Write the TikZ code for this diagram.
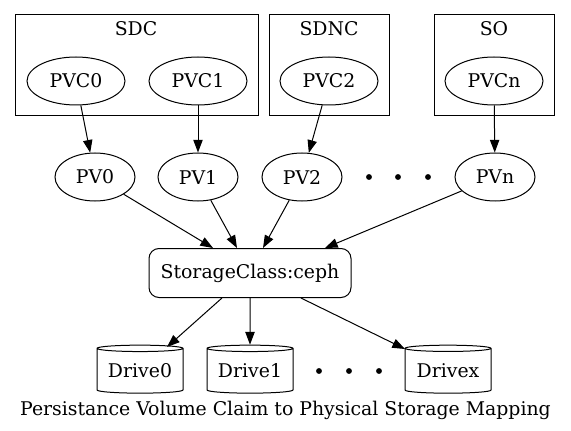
\documentclass[tikz,border=0pt]{standalone}
\usepackage{fontspec}
\setmainfont{DejaVu Serif}
\usetikzlibrary{shapes.geometric,arrows.meta}
\begin{document}
\begin{tikzpicture}[x=0.75pt, y=-0.75pt, line width=0.75pt,
        font=\fontsize{14.15}{16}\selectfont,
        pvc/.style={ellipse, draw, inner sep=0pt, minimum width=73.5pt, minimum height=36pt},
        pv/.style={ellipse, draw, inner sep=0pt, minimum width=60pt, minimum height=36pt},
        sclass/.style={draw, rounded corners=7.5pt, inner sep=0pt, minimum width=151.5pt, minimum height=36.75pt},
        drive/.style={cylinder, shape border rotate=90, aspect=0.1, draw, inner sep=0pt, minimum width=64.5pt, minimum height=36pt},
        edge/.style={-{Triangle[length=9.5pt, width=7pt]}}
      ]
      \useasboundingbox (0,0) rectangle (571,431);
      % clusters
      \draw (15,15) rectangle (258,116);
      \draw (269,15) rectangle (389,116);
      \draw (434,15) rectangle (554,116);
      \node (sdc) at (136,29) {SDC};
      \node (sdnc) at (329,29) {SDNC};
      \node (so) at (494,29) {SO};
      % claims
      \node[pvc] (pvc0) at (76,81) {PVC0};
      \node[pvc] (pvc1) at (198,81) {PVC1};
      \node[pvc] (pvc2) at (329,81) {PVC2};
      \node[pvc] (pvcn) at (494,81) {PVCn};
      % volumes
      \node[pv] (pv0) at (95,177) {PV0};
      \node[pv] (pv1) at (198,177) {PV1};
      \node[pv] (pv2) at (302,177) {PV2};
      \node[pv] (pvn) at (495,177) {PVn};
      \foreach \x in {369,398,428} \fill (\x,177) circle (2.2pt);
      % storage class
      \node[sclass] (sc) at (250,273) {StorageClass:ceph};
      % drives
      \node[drive] (d0) at (140,371) {Drive0};
      \node[drive] (d1) at (250,371) {Drive1};
      \node[drive] (dx) at (448,371) {Drivex};
      \foreach \x in {319,349,379} \fill (\x,371) circle (2.2pt);
      \node (caption) at (285.5,410) {Persistance Volume Claim to Physical Storage Mapping};
      \draw[edge] (pvc0) -- (pv0);
      \draw[edge] (pvc1) -- (pv1);
      \draw[edge] (pvc2) -- (pv2);
      \draw[edge] (pvcn) -- (pvn);
      \draw[edge] (pv0) -- ([xshift=-27.75pt]sc.north);
      \draw[edge] (pv1) -- ([xshift=-9.75pt]sc.north);
      \draw[edge] (pv2) -- ([xshift=9.75pt]sc.north);
      \draw[edge] (pvn) -- ([xshift=56.25pt]sc.north);
      \draw[edge] (sc) -- ([shift={(27,-24)}]d0.center);
      \draw[edge] (sc) -- (d1);
      \draw[edge] (sc) -- ([shift={(-43,-22)}]dx.center);
    \end{tikzpicture}
\end{document}
